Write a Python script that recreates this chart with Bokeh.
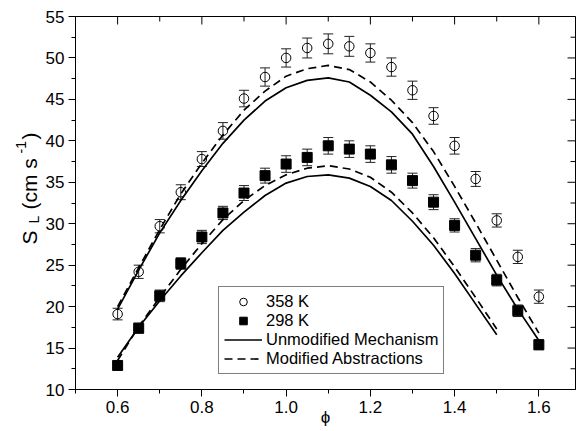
import math
from bokeh.plotting import figure
from bokeh.layouts import row
from bokeh.models import (ColumnDataSource, Whisker, TeeHead, Legend, LegendItem, Label,
                          FixedTicker, PrintfTickFormatter, Range1d)
from bokeh.embed import file_html
from bokeh.resources import INLINE

# ---------------- data ----------------
phi = [0.60, 0.65, 0.70, 0.75, 0.80, 0.85, 0.90, 0.95, 1.00, 1.05, 1.10,
       1.15, 1.20, 1.25, 1.30, 1.35, 1.40, 1.45, 1.50, 1.55, 1.60]

# experiments, 358 K (open circles)
s358 = [19.1, 24.2, 29.7, 33.8, 37.8, 41.2, 45.1, 47.7, 50.0, 51.2, 51.7,
        51.4, 50.6, 48.9, 46.1, 43.0, 39.4, 35.4, 30.4, 26.0, 21.2]
e358 = [0.7, 0.8, 0.8, 0.9, 0.9, 1.0, 1.0, 1.1, 1.1, 1.2, 1.2,
        1.2, 1.1, 1.1, 1.1, 1.0, 1.0, 0.9, 0.8, 0.8, 0.8]

# experiments, 298 K (filled squares)
s298 = [12.9, 17.4, 21.3, 25.2, 28.4, 31.3, 33.7, 35.8, 37.2, 38.0, 39.4,
        39.0, 38.4, 37.1, 35.2, 32.6, 29.8, 26.2, 23.2, 19.5, 15.4]
e298 = [0.5, 0.6, 0.7, 0.7, 0.8, 0.8, 0.9, 0.9, 1.0, 1.0, 1.0,
        1.0, 1.0, 1.0, 0.9, 0.9, 0.8, 0.8, 0.7, 0.7, 0.6]

# model curves, 358 K
unmod_358 = [19.7, 24.4, 28.9, 32.8, 36.4, 39.7, 42.5, 44.8, 46.4, 47.3, 47.6,
             47.1, 45.5, 43.5, 40.8, 36.9, 32.6, 28.2, 23.8, 19.7, 15.9]
mod_358 = [20.0, 24.7, 29.3, 33.6, 37.3, 40.7, 43.7, 46.0, 47.8, 48.7, 49.1,
           48.6, 47.1, 44.9, 42.2, 38.7, 34.5, 30.1, 25.6, 21.1, 16.8]

# model curves, 298 K
phi_298_model = [0.60, 0.65, 0.70, 0.75, 0.80, 0.85, 0.90, 0.95, 1.00, 1.05,
                 1.10, 1.15, 1.20, 1.25, 1.30, 1.35, 1.40, 1.45, 1.50]
unmod_298 = [13.9, 17.5, 20.7, 23.7, 26.5, 29.2, 31.4, 33.4, 34.9, 35.7,
             35.9, 35.5, 34.5, 32.8, 30.3, 27.4, 24.0, 20.3, 16.6]
mod_298 = [13.5, 17.6, 21.1, 24.5, 27.6, 30.5, 32.8, 34.6, 35.9, 36.7,
           37.0, 36.6, 35.6, 33.8, 31.3, 28.3, 24.8, 21.1, 17.3]

X_MIN, X_MAX = 0.5, 1.687
Y_MIN, Y_MAX = 10, 55
x_major = [0.6, 0.8, 1.0, 1.2, 1.4, 1.6]
x_minor = [0.5, 0.7, 0.9, 1.1, 1.3, 1.5]
y_major = [10, 15, 20, 25, 30, 35, 40, 45, 50, 55]
y_minor = [12.5, 17.5, 22.5, 27.5, 32.5, 37.5, 42.5, 47.5, 52.5]

legend_labels = ["358 K", "298 K", "Unmodified Mechanism", "Modified Abstractions"]
x_title = "\u03d5"

FONT = "Liberation Sans"

# ---------------- main figure ----------------
p = figure(width=534, height=431, x_range=Range1d(X_MIN, X_MAX), y_range=Range1d(Y_MIN, Y_MAX),
           output_backend="svg", toolbar_location=None,
           min_border_left=31, min_border_right=1, min_border_top=16, min_border_bottom=42)
p.grid.visible = False
p.outline_line_color = "black"
p.outline_line_width = 1
p.background_fill_color = "white"
p.border_fill_color = "white"

for ax in p.xaxis:
    ax.ticker = FixedTicker(ticks=x_major, minor_ticks=x_minor)
    ax.formatter = PrintfTickFormatter(format="%.1f")
    ax.axis_label = x_title
    ax.axis_label_text_font = FONT
    ax.axis_label_text_font_size = "17px"
    ax.axis_label_text_font_style = "normal"
    ax.axis_label_text_color = "black"
    ax.axis_label_standoff = -8
for ax in p.yaxis:
    ax.ticker = FixedTicker(ticks=y_major, minor_ticks=y_minor)

for ax in list(p.xaxis) + list(p.yaxis):
    ax.major_label_text_font = FONT
    ax.major_label_text_font_size = "17px"
    ax.major_label_text_color = "black"
    ax.axis_line_color = "black"
    ax.major_tick_line_color = "black"
    ax.minor_tick_line_color = "black"
    ax.major_tick_in = 0
    ax.major_tick_out = 7
    ax.minor_tick_in = 0
    ax.minor_tick_out = 4
    ax.major_label_standoff = 4

# inward ticks on the top and right frame edges (half of each dash is clipped by the frame)
p.scatter(x=x_major, y=[Y_MAX] * len(x_major), marker="dash", angle=math.pi / 2,
          size=16, line_color="black", line_width=1)
p.scatter(x=x_minor, y=[Y_MAX] * len(x_minor), marker="dash", angle=math.pi / 2,
          size=10, line_color="black", line_width=1)
p.scatter(x=[X_MAX] * len(y_major), y=y_major, marker="dash",
          size=16, line_color="black", line_width=1)
p.scatter(x=[X_MAX] * len(y_minor), y=y_minor, marker="dash",
          size=10, line_color="black", line_width=1)

# ---------------- model curves ----------------
r_unmod = p.line(phi, unmod_358, line_color="black", line_width=1.7)
p.line(phi_298_model, unmod_298, line_color="black", line_width=1.7)
r_mod = p.line(phi, mod_358, line_color="black", line_width=1.7, line_dash="8 5")
p.line(phi_298_model, mod_298, line_color="black", line_width=1.7, line_dash="8 5")

# ---------------- experiments ----------------
src358 = ColumnDataSource(dict(x=phi, y=s358,
                               lo=[a - b for a, b in zip(s358, e358)],
                               hi=[a + b for a, b in zip(s358, e358)]))
src298 = ColumnDataSource(dict(x=phi, y=s298,
                               lo=[a - b for a, b in zip(s298, e298)],
                               hi=[a + b for a, b in zip(s298, e298)]))

for src in (src358, src298):
    w = Whisker(source=src, base="x", upper="hi", lower="lo",
                line_color="#222222", line_width=1,
                upper_head=TeeHead(size=10, line_color="#222222", line_width=1),
                lower_head=TeeHead(size=10, line_color="#222222", line_width=1))
    p.add_layout(w)

r358 = p.scatter("x", "y", source=src358, marker="circle", size=9.5,
                 fill_color=None, line_color="black", line_width=1)
r298 = p.scatter("x", "y", source=src298, marker="square", size=10,
                 fill_color="black", line_color="black", line_width=1)

# ---------------- legend ----------------
legend = Legend(items=[LegendItem(label=legend_labels[0], renderers=[r358]),
                       LegendItem(label=legend_labels[1], renderers=[r298]),
                       LegendItem(label=legend_labels[2], renderers=[r_unmod]),
                       LegendItem(label=legend_labels[3], renderers=[r_mod])],
                location=(143, 15), orientation="vertical",
                border_line_color="black", border_line_width=1,
                background_fill_color="white", background_fill_alpha=1,
                padding=5, spacing=0, margin=0,
                glyph_width=38, glyph_height=19, label_height=19, label_standoff=4,
                label_text_font=FONT, label_text_font_size="16.5px",
                label_text_color="black")
p.add_layout(legend)

# ---------------- y-axis title in its own narrow strip (sub/superscripts) ----------------
lab = figure(width=42, height=431, x_range=Range1d(0, 42), y_range=Range1d(0, 431),
             output_backend="svg", toolbar_location=None,
             x_axis_location=None, y_axis_location=None, min_border=0)
lab.grid.visible = False
lab.outline_line_color = None
lab.background_fill_color = "white"
lab.border_fill_color = "white"


def ylab(text, y, size, x):
    lab.add_layout(Label(x=x, y=y, x_units="screen", y_units="screen", text=text,
                         angle=math.pi / 2, text_font=FONT, text_font_size=size,
                         text_color="black", text_align="left", text_baseline="alphabetic"))


ylab("S", 145, "21px", 29)
ylab("L", 166, "14px", 33)
ylab("(cm s", 180, "21px", 29)
ylab("-1", 236, "14px", 20)
ylab(")", 250, "21px", 29)

layout = row(lab, p)
open("out.html", "w").write(file_html(layout, INLINE))
